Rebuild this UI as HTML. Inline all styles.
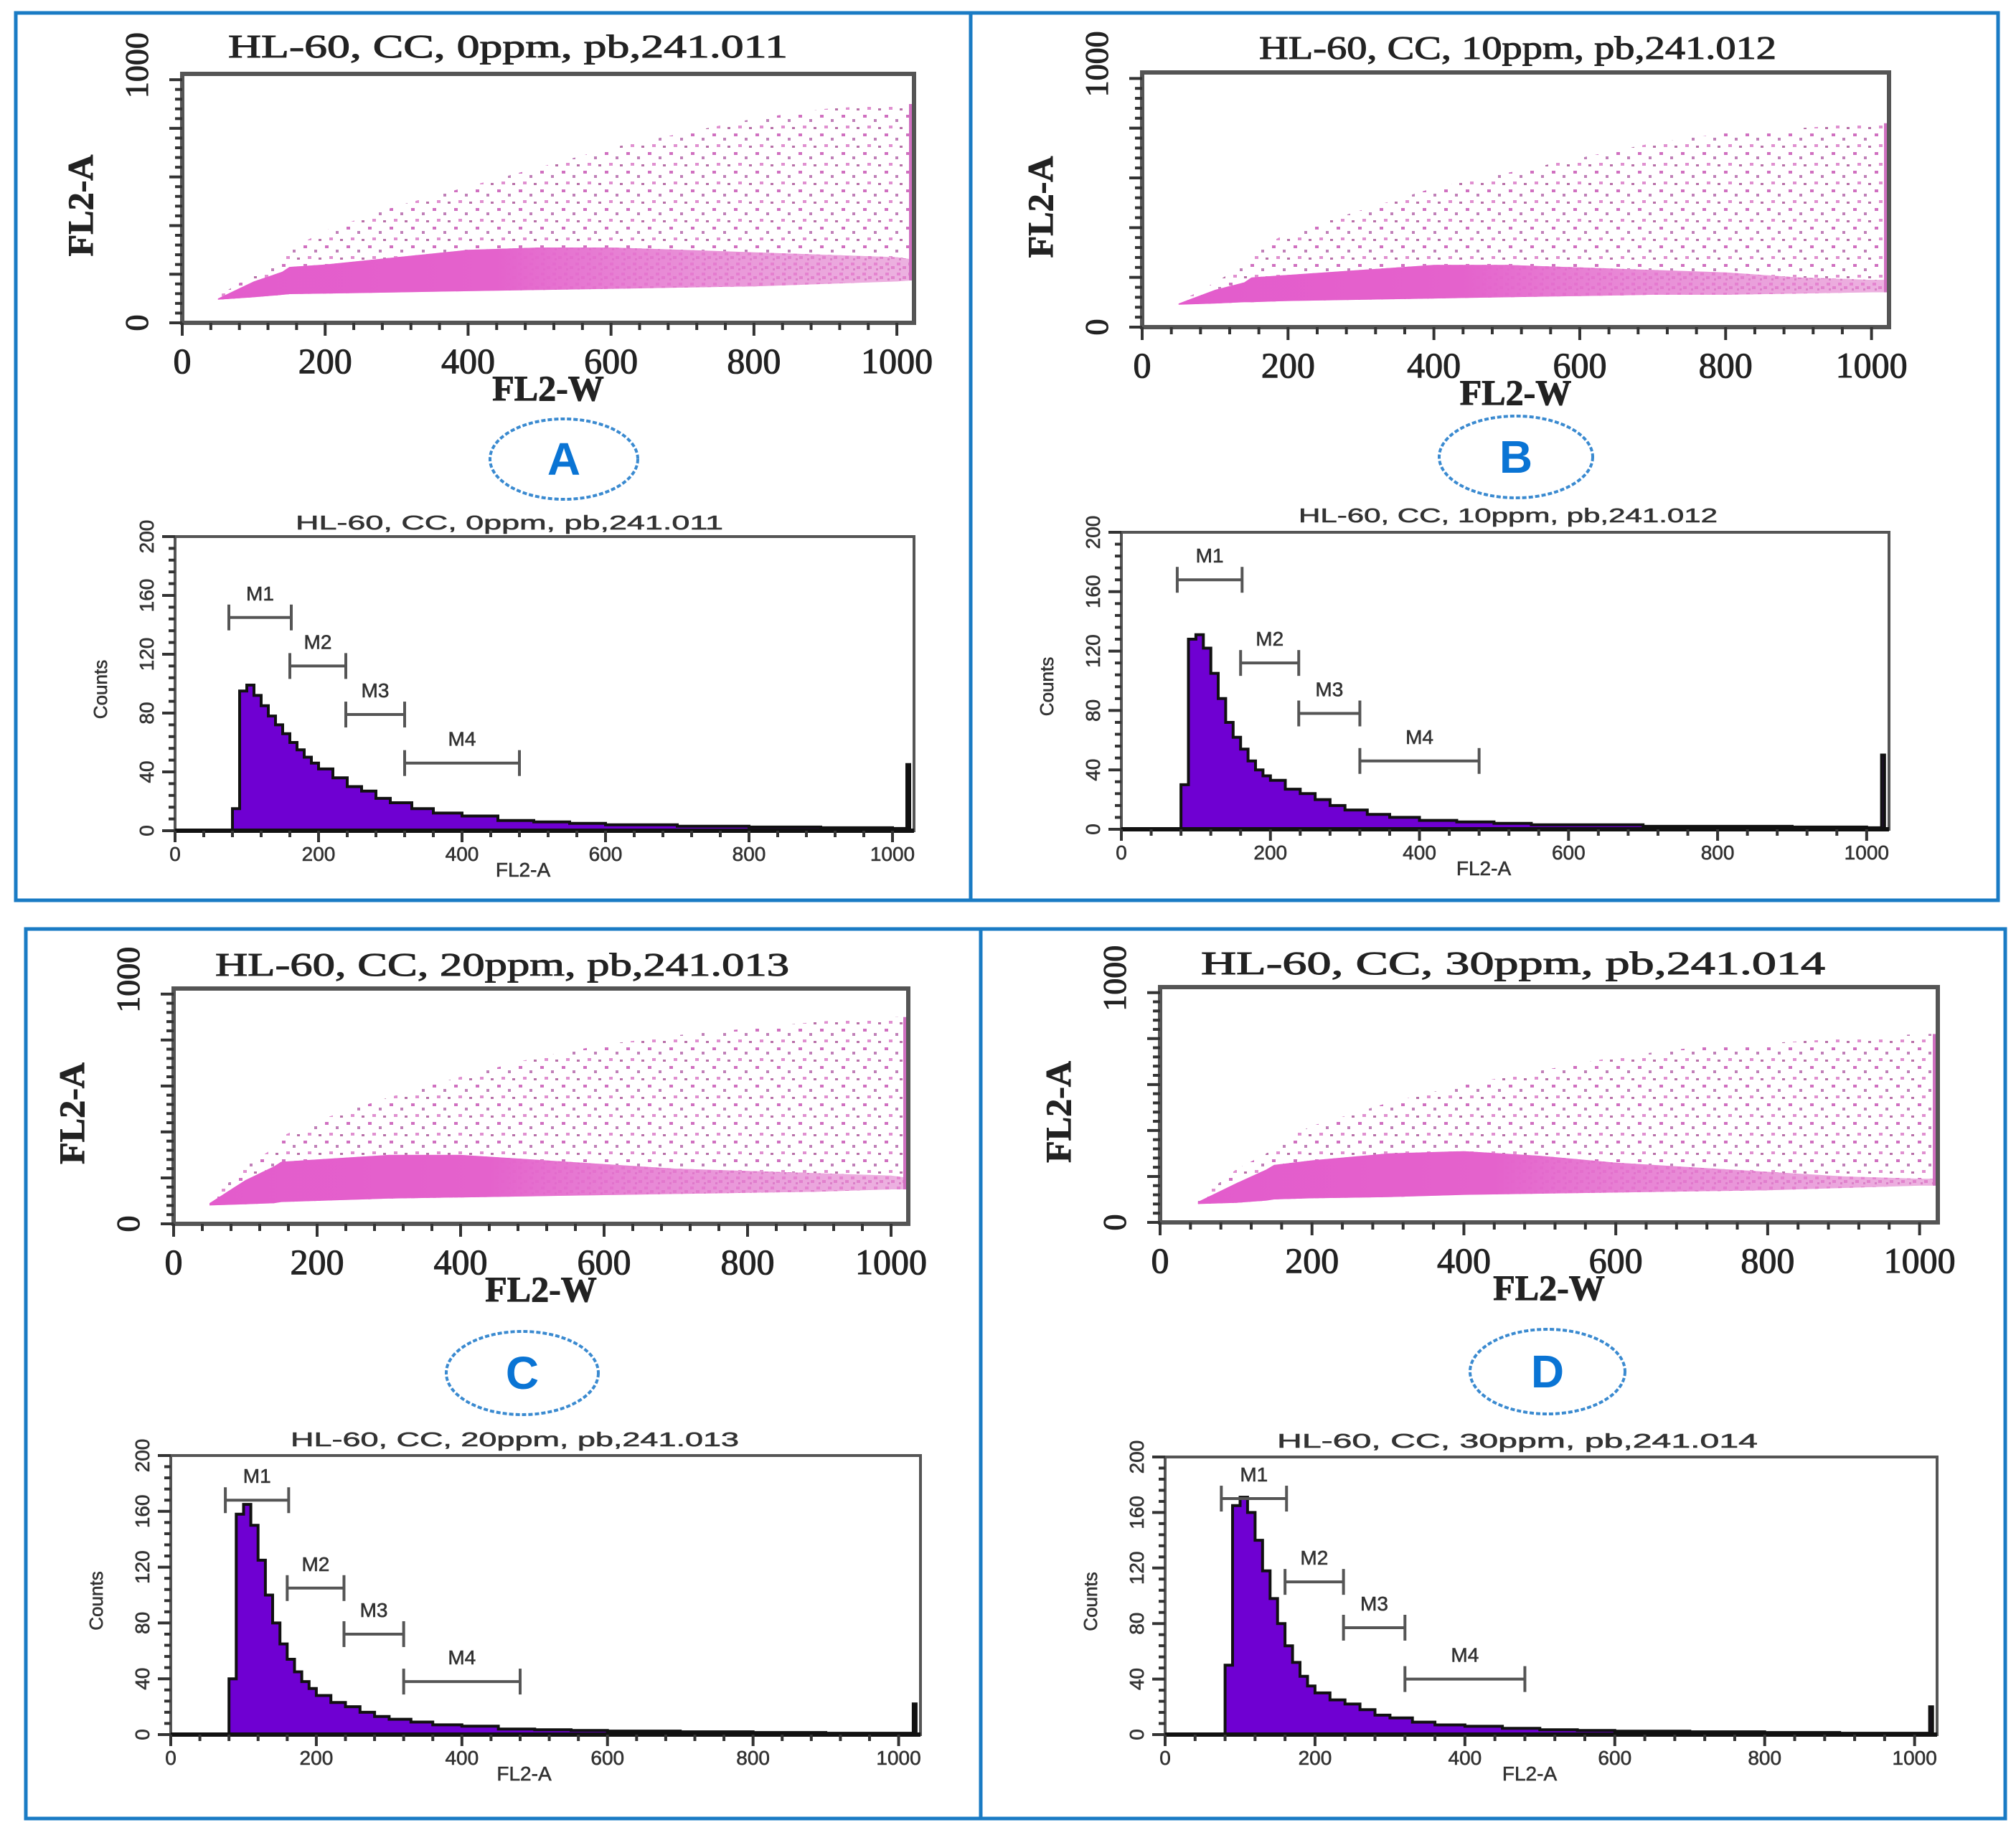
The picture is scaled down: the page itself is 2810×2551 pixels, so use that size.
<!DOCTYPE html>
<html><head><meta charset="utf-8">
<style>
html,body{margin:0;padding:0;background:#fff;}
svg{display:block;}
.ser{font-family:"Liberation Serif",serif;fill:#222;stroke:#222;stroke-width:1;}
.sans{font-family:"Liberation Sans",sans-serif;fill:#333;stroke:#333;stroke-width:0.6;}
</style></head>
<body>
<svg id="fig" width="2810" height="2551" viewBox="0 0 2810 2551" xmlns="http://www.w3.org/2000/svg">
<defs>
  <pattern id="dotsLight" width="30" height="26" patternUnits="userSpaceOnUse">
    <rect x="3" y="4" width="5" height="4" fill="#d070c0"/>
    <rect x="18" y="10" width="4" height="4" fill="#c080b8"/>
    <rect x="9" y="19" width="5" height="4" fill="#e090d0"/>
    <rect x="24" y="21" width="4" height="3" fill="#b870a8"/>
  </pattern>
  <pattern id="dotsDense" width="16" height="14" patternUnits="userSpaceOnUse">
    <rect x="0" y="0" width="16" height="14" fill="#f0bce4"/>
    <rect x="2" y="2" width="5" height="4" fill="#e060c4"/>
    <rect x="10" y="7" width="5" height="4" fill="#d85cbc"/>
    <rect x="5" y="10" width="3" height="3" fill="#c858b0"/>
  </pattern>
  <linearGradient id="denseGrad" x1="0" x2="1" y1="0" y2="0">
    <stop offset="0" stop-color="#e35ccc"/>
    <stop offset="0.4" stop-color="#e462cc"/>
    <stop offset="1" stop-color="#e9a8dc" stop-opacity="0.5"/>
  </linearGradient>
</defs>
<g id="root"></g>
</svg>
<script>
// ---------- data ----------
const SC_X = [50,100,140,150,200,300,400,500,600,700,800,900,1000,1024];
const SC_LOWER_A = [95,105,115,118,120,125,130,135,140,145,150,160,170,175];
const SC_DENSE_A = [100,170,210,230,240,270,300,310,310,300,290,280,270,260];
const SC_SPARSE_A = [110,200,260,300,380,480,560,640,720,780,840,880,900,900];
const SC_LOWER_B = [90,95,100,100,105,110,115,120,125,130,130,135,140,140];
const SC_DENSE_B = [95,150,180,200,210,230,250,250,240,230,220,200,190,190];
const SC_SPARSE_B = [100,180,250,300,380,470,560,620,680,740,780,800,820,820];
const SC_LOWER_C = [80,85,90,95,100,110,115,120,125,130,135,140,150,150];
const SC_DENSE_C = [90,190,250,270,280,300,300,280,260,240,230,220,210,200];
const SC_SPARSE_C = [100,250,330,380,450,550,640,720,780,820,850,880,900,900];
const SC_LOWER_D = [80,85,95,100,105,110,120,125,130,135,140,150,160,160];
const SC_DENSE_D = [90,170,230,250,270,300,310,290,260,240,220,200,190,190];
const SC_SPARSE_D = [100,230,300,340,420,520,600,660,720,760,780,800,820,820];

const HIST_X = [80,90,100,110,120,130,140,150,160,170,180,190,200,220,240,260,280,300,330,360,400,450,500,550,600,700,800,900,1000,1020];
const HIST_A = [15,95,99,92,85,78,72,66,60,55,50,46,42,36,30,27,22,19,15,12,10,7,6,5,4,3,2.5,2,1.5,45];
const HIST_B = [30,128,131,122,105,88,72,62,54,46,40,36,33,27,24,20,16,13,10,8,6,5,4,3,3,2,2,1.5,1,50];
const HIST_C = [40,158,165,150,125,100,80,65,54,45,38,33,28,23,20,16,13,11,9,7,6,4,3.5,3,2.5,2,1.5,1,1,22];
const HIST_D = [50,165,171,160,140,118,98,80,64,52,42,35,30,25,22,18,14,12,9,7,6,4.5,3.5,3,2.5,2,1.5,1,1,20];

const MARK_LABELS = ["M1","M2","M3","M4"];
const MARK_START = [75,160,238,320];
const MARK_END = [162,238,320,480];
const MARK_Y_A = [145,112,79,46];
const MARK_Y_B = [168,112,78,46];
const MARK_Y_C = [168,105,72,38];
const MARK_Y_D = [170,110,77,40];

const X_TICKS = [0,200,400,600,800,1000];
const X_TICK_LABELS_SC = ["0","200","400","600","800","1000"];
const Y_TICKS_H = [0,40,80,120,160,200];

// ---------- layout ----------
const NS = "http://www.w3.org/2000/svg";
const root = document.getElementById("root");
function mk(tag, attrs, parent, text){
  const e = document.createElementNS(NS, tag);
  for (const k in attrs) e.setAttribute(k, attrs[k]);
  if (text !== undefined) e.textContent = text;
  (parent||root).appendChild(e);
  return e;
}

const panels = [
  {key:"a", letter:"A", frame:[22,18,1353,1255], title:"HL-60, CC, 0ppm, pb,241.011",
   sc:{l:254,r:1274,t:103,b:450}, titleX:[318,1098], titleY:80,
   hist:{l:244,r:1274,t:748,b:1158}, htitleX:[412,1008], htitleY:738,
   oval:[786,640,103,56], lower:SC_LOWER_A, dense:SC_DENSE_A, sparse:SC_SPARSE_A, counts:HIST_A, my:MARK_Y_A},
  {key:"b", letter:"B", frame:[1353,18,2785,1255], title:"HL-60, CC, 10ppm, pb,241.012",
   sc:{l:1592,r:2633,t:101,b:456}, titleX:[1755,2476], titleY:82,
   hist:{l:1563,r:2633,t:742,b:1156}, htitleX:[1810,2394], htitleY:728,
   oval:[2113,637,107,57], lower:SC_LOWER_B, dense:SC_DENSE_B, sparse:SC_SPARSE_B, counts:HIST_B, my:MARK_Y_B},
  {key:"c", letter:"C", frame:[36,1295,1367,2535], title:"HL-60, CC, 20ppm, pb,241.013",
   sc:{l:242,r:1266,t:1378,b:1706}, titleX:[300,1100], titleY:1360,
   hist:{l:238,r:1283,t:2029,b:2418}, htitleX:[405,1030], htitleY:2016,
   oval:[728,1914,106,58], lower:SC_LOWER_C, dense:SC_DENSE_C, sparse:SC_SPARSE_C, counts:HIST_C, my:MARK_Y_C},
  {key:"d", letter:"D", frame:[1367,1295,2795,2535], title:"HL-60, CC, 30ppm, pb,241.014",
   sc:{l:1617,r:2701,t:1376,b:1704}, titleX:[1674,2544], titleY:1358,
   hist:{l:1624,r:2700,t:2031,b:2418}, htitleX:[1780,2450], htitleY:2018,
   oval:[2157,1912,108,59], lower:SC_LOWER_D, dense:SC_DENSE_D, sparse:SC_SPARSE_D, counts:HIST_D, my:MARK_Y_D}
];

panels.forEach(p => {
  const g = mk("g", {});
  
  
  const f = p.frame;
  const fr = mk("rect", {x:f[0], y:f[1], width:f[2]-f[0], height:f[3]-f[1], fill:"none", stroke:"#1a7bc4", "stroke-width":5}, g);
  
  

  // ---- scatter ----
  const s = p.sc;
  const sx = v => s.l + v/1024*(s.r-s.l);
  const sy = v => s.b - v/1024*(s.b-s.t);
  const sg = mk("g", {}, g);
  
  
  let sp = "";
  SC_X.forEach((x,i)=>{ sp += (i?"L":"M") + sx(x).toFixed(1) + "," + sy(p.sparse[i]).toFixed(1); });
  for (let i=SC_X.length-1;i>=0;i--) sp += "L" + sx(SC_X[i]).toFixed(1) + "," + sy(p.lower[i]).toFixed(1);
  const sparseEl = mk("path", {d:sp+"Z", fill:"url(#dotsLight)"}, sg);
  
  
  // intermediate band between dense and sparse
  let ip = "";
  SC_X.forEach((x,i)=>{ ip += (i?"L":"M") + sx(x).toFixed(1) + "," + sy((p.dense[i]*2+p.sparse[i])/3).toFixed(1); });
  for (let i=SC_X.length-1;i>=0;i--) ip += "L" + sx(SC_X[i]).toFixed(1) + "," + sy(p.lower[i]).toFixed(1);
  const band = mk("path", {d:ip+"Z", fill:"url(#dotsLight)"}, sg);
  
  
  let dp = "";
  SC_X.forEach((x,i)=>{ dp += (i?"L":"M") + sx(x).toFixed(1) + "," + sy(p.dense[i]).toFixed(1); });
  for (let i=SC_X.length-1;i>=0;i--) dp += "L" + sx(SC_X[i]).toFixed(1) + "," + sy(p.lower[i]).toFixed(1);
  const mid = mk("path", {d:dp+"Z", fill:"url(#dotsDense)"}, sg);
  
  
  const dense = mk("path", {d:dp+"Z", fill:"url(#denseGrad)"}, sg);
  
  
  const edge = mk("line", {x1:s.r-4, x2:s.r-4, y1:sy(p.lower[p.lower.length-1]), y2:sy(p.sparse[p.sparse.length-1]), stroke:"#d070c0", "stroke-width":6}, sg);
  
  
  const box = mk("rect", {x:s.l, y:s.t, width:s.r-s.l, height:s.b-s.t, fill:"none", stroke:"#555", "stroke-width":6}, sg);
  
  
  for (let v=0; v<=1024; v+=40){
    const t = mk("line", {x1:sx(v), x2:sx(v), y1:s.b, y2:s.b+(v%200===0?18:10), stroke:"#333", "stroke-width":4}, sg);
    
    
    const t2 = mk("line", {x1:s.l, x2:s.l-(v%200===0?18:10), y1:sy(v), y2:sy(v), stroke:"#333", "stroke-width":4}, sg);
    
    
  }
  X_TICKS.forEach((v,i)=>{
    const t = mk("text", {x:sx(v), y:s.b+70, "font-size":50, "text-anchor":"middle", class:"ser"}, sg, X_TICK_LABELS_SC[i]);
    
    
  });
  [[0,"0"],[1000,"1000"]].forEach(([v,l])=>{
    const yy = sy(v) - (v?20:0);
    const t = mk("text", {x:0, y:0, "font-size":46, "text-anchor":"middle", class:"ser", transform:`translate(${s.l-48},${yy}) rotate(-90)`}, sg, l);
    
    
  });
  const xt = mk("text", {x:(s.l+s.r)/2, y:s.b+108, "font-size":50, "font-weight":"bold", "text-anchor":"middle", class:"ser"}, sg, "FL2-W");
  
  
  const yt = mk("text", {x:0, y:0, "font-size":50, "font-weight":"bold", "text-anchor":"middle", class:"ser", transform:`translate(${s.l-125},${(s.t+s.b)/2+10}) rotate(-90)`}, sg, "FL2-A");
  
  
  const tt = mk("text", {x:p.titleX[0], y:p.titleY, "font-size":46, textLength:p.titleX[1]-p.titleX[0], lengthAdjust:"spacingAndGlyphs", class:"ser"}, sg, p.title);
  
  

  // ---- oval label ----
  const o = p.oval;
  const ov = mk("ellipse", {cx:o[0], cy:o[1], rx:o[2], ry:o[3], fill:"none", stroke:"#3a8ad0", "stroke-width":4, "stroke-dasharray":"6 3"}, g);
  
  
  const lt = mk("text", {x:o[0], y:o[1]+22, "font-size":64, "font-weight":"bold", "text-anchor":"middle", fill:"#0a74d4", style:"font-family:'Liberation Sans',sans-serif"}, g, p.letter);
  
  

  // ---- histogram ----
  const h = p.hist;
  const hx = v => h.l + v/1030*(h.r-h.l);
  const hy = v => h.b - v/200*(h.b-h.t);
  const hg = mk("g", {}, g);
  
  
  let hp = "M" + hx(HIST_X[0]) + "," + hy(0);
  HIST_X.forEach((x,i)=>{
    const xe = i < HIST_X.length-1 ? HIST_X[i+1] : 1024;
    hp += "L" + hx(x).toFixed(1) + "," + hy(p.counts[i]).toFixed(1) + "L" + hx(xe).toFixed(1) + "," + hy(p.counts[i]).toFixed(1);
  });
  hp += "L" + hx(1024).toFixed(1) + "," + hy(0) + "Z";
  const hist = mk("path", {d:hp, fill:"#6f00d2", stroke:"#111", "stroke-width":4, "stroke-linejoin":"miter"}, hg);
  
  
  const hb = mk("rect", {x:h.l, y:h.t, width:h.r-h.l, height:h.b-h.t, fill:"none", stroke:"#555", "stroke-width":4}, hg);
  
  
  const base = mk("line", {x1:h.l, x2:h.r, y1:h.b, y2:h.b, stroke:"#111", "stroke-width":6}, hg);
  
  
  for (let v=0; v<=1024; v+=40){
    const t = mk("line", {x1:hx(v), x2:hx(v), y1:h.b, y2:h.b+(v%200===0?16:9), stroke:"#333", "stroke-width":4}, hg);
    
    
  }
  for (let v=0; v<=200; v+=8){
    const t = mk("line", {x1:h.l, x2:h.l-(v%40===0?18:9), y1:hy(v), y2:hy(v), stroke:"#333", "stroke-width":4}, hg);
    
    
  }
  X_TICKS.forEach(v=>{
    const t = mk("text", {x:hx(v), y:h.b+42, "font-size":28, "text-anchor":"middle", class:"sans"}, hg, String(v));
    
    
  });
  Y_TICKS_H.forEach(v=>{
    const t = mk("text", {x:0, y:0, "font-size":28, "text-anchor":"middle", class:"sans", transform:`translate(${h.l-30},${hy(v)}) rotate(-90)`}, hg, String(v));
    
    
  });
  const hxt = mk("text", {x:(h.l+h.r)/2-30, y:h.b+64, "font-size":28, "text-anchor":"middle", class:"sans"}, hg, "FL2-A");
  
  
  const hyt = mk("text", {x:0, y:0, "font-size":26, "text-anchor":"middle", class:"sans", transform:`translate(${h.l-95},${(h.t+h.b)/2+8}) rotate(-90)`}, hg, "Counts");
  
  
  const htt = mk("text", {x:p.htitleX[0], y:p.htitleY, "font-size":28, textLength:p.htitleX[1]-p.htitleX[0], lengthAdjust:"spacingAndGlyphs", class:"sans"}, hg, p.title);
  
  
  MARK_LABELS.forEach((lab,i)=>{
    const y = hy(p.my[i]);
    const mg = mk("g", {stroke:"#555", "stroke-width":4}, hg);
    
    
    mk("line", {x1:hx(MARK_START[i]), x2:hx(MARK_END[i]), y1:y, y2:y}, mg);
    mk("line", {x1:hx(MARK_START[i]), x2:hx(MARK_START[i]), y1:y-18, y2:y+18}, mg);
    mk("line", {x1:hx(MARK_END[i]), x2:hx(MARK_END[i]), y1:y-18, y2:y+18}, mg);
    const ml = mk("text", {x:(hx(MARK_START[i])+hx(MARK_END[i]))/2, y:y-24, "font-size":28, "text-anchor":"middle", class:"sans"}, hg, lab);
    
    
  });
});
</script>
</body></html>
